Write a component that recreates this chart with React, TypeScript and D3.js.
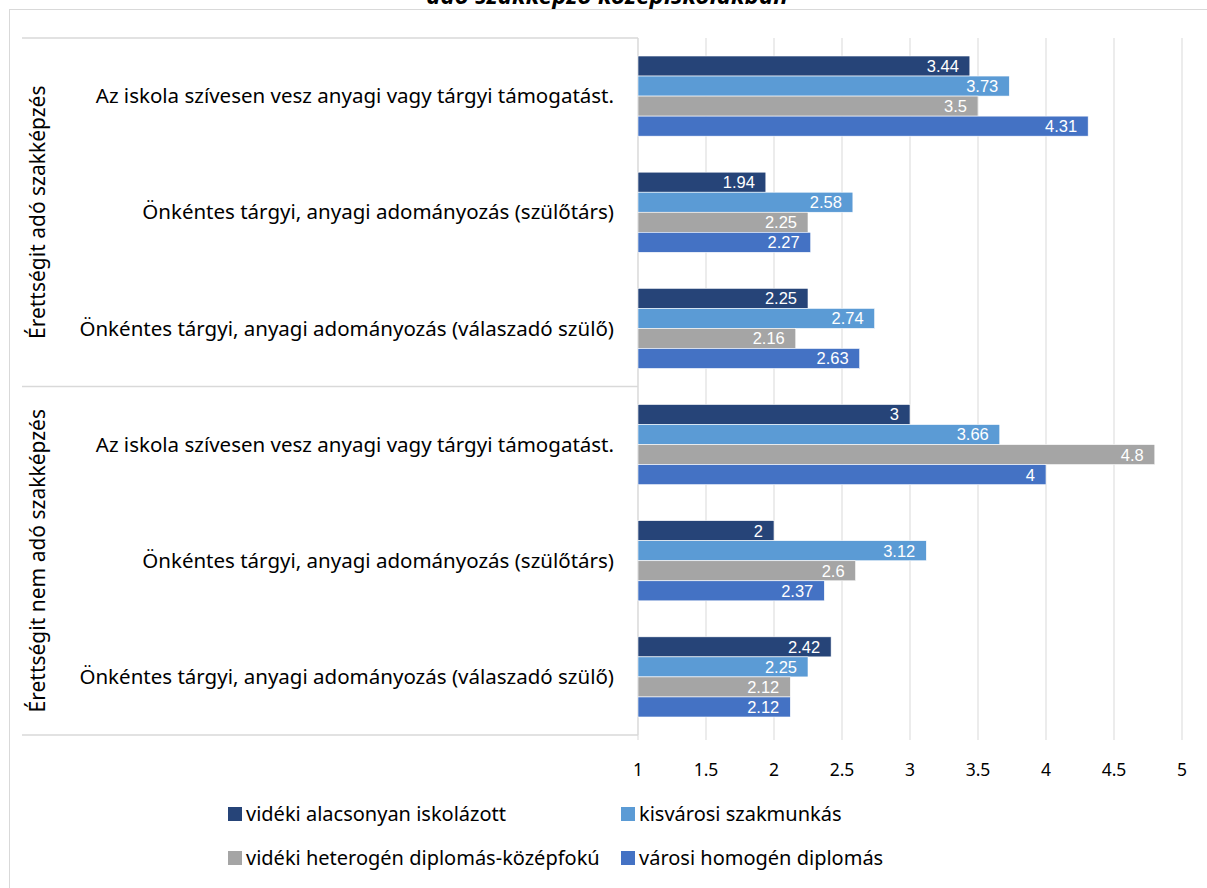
import React from 'react';
import * as d3 from 'd3';

const groups = ['Érettségit adó szakképzés', 'Érettségit nem adó szakképzés'];
const items = [
  'Az iskola szívesen vesz anyagi vagy tárgyi támogatást.',
  'Önkéntes tárgyi, anyagi adományozás (szülőtárs)',
  'Önkéntes tárgyi, anyagi adományozás (válaszadó szülő)',
];
const seriesNames = [
  'vidéki alacsonyan iskolázott',
  'kisvárosi szakmunkás',
  'vidéki heterogén diplomás-középfokú',
  'városi homogén diplomás',
];
const colors = ['#264478', '#5B9BD5', '#A5A5A5', '#4472C4'];

// values per row (group x item), one per series
const group1Values = [
  [3.44, 3.73, 3.5, 4.31],
  [1.94, 2.58, 2.25, 2.27],
  [2.25, 2.74, 2.16, 2.63],
];
const group2Values = [
  [3, 3.66, 4.8, 4],
  [2, 3.12, 2.6, 2.37],
  [2.42, 2.25, 2.12, 2.12],
];
const xTicks = [1, 1.5, 2, 2.5, 3, 3.5, 4, 4.5, 5];

const W = 1207;
const H = 888;
const plot = { left: 638, right: 1182, top: 38, bottom: 735 };
const font = '"Noto Sans", "Open Sans", sans-serif';

const App: React.FC = () => {
  const rows = groups.flatMap((g, gi) =>
    items.map((it, ii) => ({
      key: `${gi}-${ii}`,
      group: gi,
      label: it,
      values: gi === 0 ? group1Values[ii] : group2Values[ii],
    }))
  );

  const x = d3.scaleLinear().domain([1, 5]).range([plot.left, plot.right]);
  const y = d3
    .scaleBand<string>()
    .domain(rows.map(r => r.key))
    .range([plot.top, plot.bottom])
    .paddingInner(0.31)
    .paddingOuter(0.155);
  const ys = d3
    .scaleBand<number>()
    .domain(d3.range(seriesNames.length))
    .range([0, y.bandwidth()]);

  const groupH = (plot.bottom - plot.top) / groups.length;

  return (
    <svg
      width={W}
      height={H}
      style={{ position: 'absolute', left: 0, top: 0, background: '#fff' }}
      fontFamily={font}
    >
      <text x={607} y={4} textAnchor="middle" fontStyle="italic" fontWeight="bold" fontSize={24} fill="#000">
        adó szakképző középiskolákban
      </text>
      <rect x={9.5} y={9.5} width={1220} height={890} fill="none" stroke="#d9d9d9" />

      {/* gridlines */}
      {xTicks.map(t => (
        <line key={t} x1={x(t)} x2={x(t)} y1={plot.top} y2={plot.bottom + 5} stroke="#d9d9d9" strokeWidth={1} />
      ))}

      {/* category axis lines */}
      {d3.range(groups.length + 1).map(i => (
        <line
          key={i}
          x1={22}
          x2={plot.left}
          y1={plot.top + i * groupH}
          y2={plot.top + i * groupH}
          stroke="#d9d9d9"
          strokeWidth={1.5}
        />
      ))}
      <line x1={plot.left} x2={plot.left} y1={plot.top} y2={plot.bottom} stroke="#d9d9d9" />

      {/* bars */}
      {rows.map(r => (
        <g key={r.key} transform={`translate(0,${y(r.key)})`}>
          {r.values.map((v, si) => (
            <g key={si}>
              <rect
                x={x(1)}
                y={ys(si)}
                width={x(v) - x(1)}
                height={ys.bandwidth()}
                fill={colors[si]}
                stroke="#fff"
                strokeWidth={0.6}
              />
              <text
                x={x(v) - 11}
                y={(ys(si) ?? 0) + ys.bandwidth() / 2}
                dy="0.36em"
                textAnchor="end"
                fontFamily='"Liberation Sans", Arial, sans-serif'
                fontSize={16.5}
                fill="#fff"
              >
                {v}
              </text>
            </g>
          ))}
        </g>
      ))}

      {/* row labels */}
      {rows.map(r => (
        <text
          key={r.key}
          x={614}
          y={(y(r.key) ?? 0) + y.bandwidth() / 2}
          dy="0.35em"
          textAnchor="end"
          fontSize={20.5}
          fill="#000"
        >
          {r.label}
        </text>
      ))}

      {/* group labels */}
      {groups.map((g, gi) => (
        <text
          key={g}
          transform={`translate(38,${plot.top + groupH * (gi + 0.5)}) rotate(-90)`}
          dy="0.35em"
          textAnchor="middle"
          fontSize={21}
          fill="#000"
        >
          {g}
        </text>
      ))}

      {/* x tick labels */}
      {xTicks.map(t => (
        <text key={t} x={x(t)} y={770} dy="0.35em" textAnchor="middle" fontSize={17.5} fill="#000">
          {t}
        </text>
      ))}

      {/* legend */}
      {seriesNames.map((s, i) => {
        const lx = i % 2 === 0 ? 228 : 621;
        const ly = i < 2 ? 814 : 858;
        return (
          <g key={s} transform={`translate(${lx},${ly})`}>
            <rect x={0} y={-7} width={14} height={14} fill={colors[i]} />
            <text x={18} y={0} dy="0.35em" fontSize={20} fill="#000">
              {s}
            </text>
          </g>
        );
      })}
    </svg>
  );
};

export default App;
